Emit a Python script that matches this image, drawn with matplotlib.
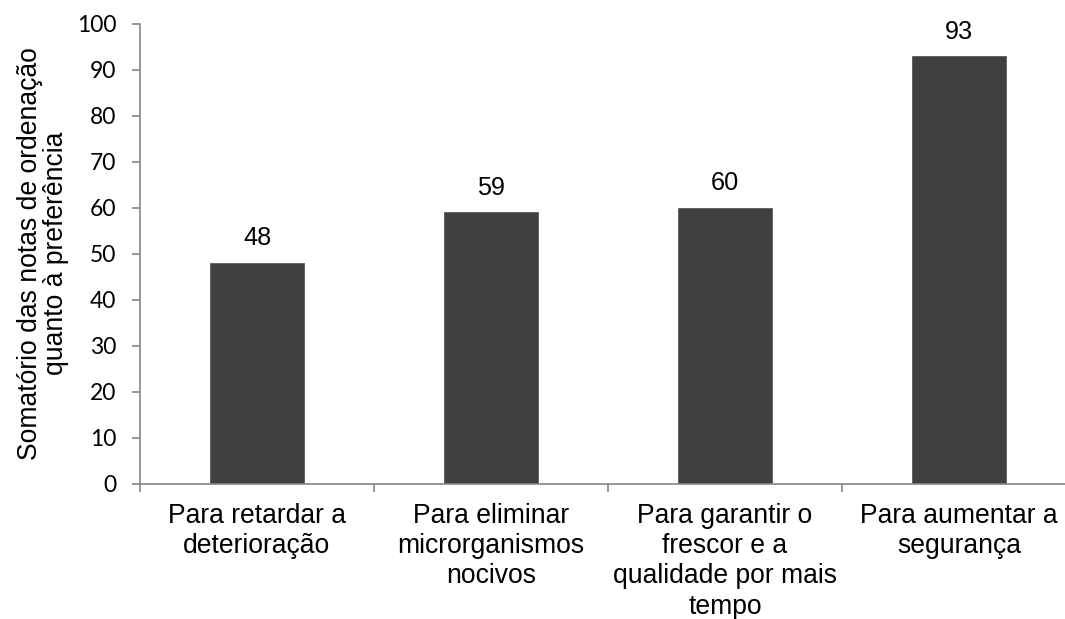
import matplotlib
matplotlib.use("Agg")
import matplotlib.pyplot as plt

categories = [
    "Para retardar a\ndeterioração",
    "Para eliminar\nmicrorganismos\nnocivos",
    "Para garantir o\nfrescor e a\nqualidade por mais\ntempo",
    "Para aumentar a\nsegurança",
]
values = [48, 59, 60, 93]
y_ticks = list(range(0, 101, 10))
y_label = "Somatório das notas de ordenação\nquanto à preferência"

W, H = 1065, 619
fig = plt.figure(figsize=(W / 100, H / 100), dpi=100)
# axes spans 140..1076 px horizontally, 24..483 px vertically
left, right, top, bottom = 140, 1076, 24, 483.5
ax = fig.add_axes([left / W, 1 - bottom / H, (right - left) / W, (bottom - top) / H])

spine_color = "#868686"
bar_color = "#404040"
label_font = "Liberation Sans"
fs = 19.1

x = list(range(len(values)))
ax.bar(x, values, width=0.4, color=bar_color, edgecolor="#5a5a5a", linewidth=0.6, zorder=2)

for xi, v in zip(x, values):
    ax.annotate(str(v), (xi, v), xytext=(0, 9), textcoords="offset points",
                ha="center", va="bottom", fontsize=18.2, family=label_font, color="black")

ax.set_xlim(-0.5, len(values) - 0.5)
ax.set_ylim(0, 100)
ax.set_yticks(y_ticks)
ax.set_yticklabels([str(t) for t in y_ticks], fontsize=16.5, family="Lato")

# category labels centred under bars, tick marks at category boundaries
ax.set_xticks([i - 0.5 for i in range(len(values) + 1)])
ax.set_xticklabels([])
ax.set_xticks(x, minor=True)
ax.set_xticklabels(categories, minor=True, fontsize=fs, family=label_font, linespacing=1.21)
ax.tick_params(axis="x", which="minor", length=0, pad=14)
ax.tick_params(axis="x", which="major", length=6, width=1.2, color=spine_color, direction="out")
ax.tick_params(axis="y", length=6, width=1.2, color=spine_color, direction="out", pad=11)

for s in ["top", "right"]:
    ax.spines[s].set_visible(False)
for s in ["left", "bottom"]:
    ax.spines[s].set_color(spine_color)
    ax.spines[s].set_linewidth(1.2)

ax.set_ylabel(y_label, fontsize=fs, family=label_font, linespacing=1.0, labelpad=6)

fig.savefig("out.png", dpi=100, facecolor="white")
